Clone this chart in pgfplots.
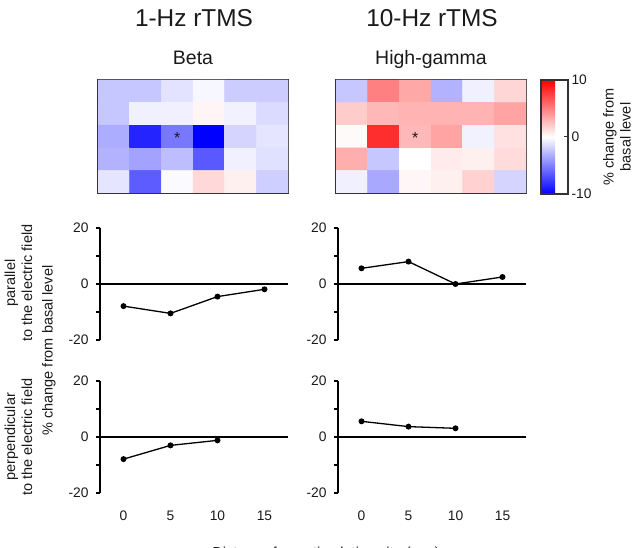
\documentclass[border=0pt]{standalone}
\usepackage{pgfplots}
\pgfplotsset{compat=1.18}
\usepackage{fontspec}
\setmainfont{Liberation Sans}

\definecolor{txt}{HTML}{1A1A1A}
\definecolor{frame}{HTML}{333333}

\newcommand{\ticksize}{\fontsize{13.8}{16}\selectfont}
\newcommand{\labsize}{\fontsize{14.5}{17}\selectfont}

% percent change from basal level, 5 rows (top to bottom) x 6 columns
\pgfplotstableread{
x y c
1 1 -2.2
2 1 -2.2
3 1 -1.1
4 1 -0.3
5 1 -2.0
6 1 -2.0
1 2 -2.2
2 2 -0.6
3 2 -0.6
4 2 0.4
5 2 -0.5
6 2 -1.4
1 3 -3.2
2 3 -8.6
3 3 -5.3
4 3 -10.0
5 3 -1.7
6 3 -1.0
1 4 -3.0
2 4 -3.6
3 4 -2.6
4 4 -6.5
5 4 -0.6
6 4 -1.2
1 5 -1.0
2 5 -6.4
3 5 -0.2
4 5 1.5
5 5 0.6
6 5 -1.9
}\betamap

\pgfplotstableread{
x y c
1 1 -2.2
2 1 5.0
3 1 3.4
4 1 -3.0
5 1 -0.6
6 1 1.6
1 2 2.0
2 2 2.8
3 2 3.0
4 2 3.0
5 2 3.0
6 2 3.6
1 3 0.2
2 3 8.2
3 3 2.8
4 3 3.6
5 3 -0.5
6 3 1.2
1 4 3.2
2 4 -2.2
3 4 0.0
4 4 0.8
5 4 0.6
6 4 1.4
1 5 -0.6
2 5 -3.4
3 5 0.3
4 5 0.6
5 5 1.8
6 5 -1.7
}\gammamap

\pgfplotsset{
  heat/.style={
    scale only axis, width=190pt, height=113pt, anchor=south west,
    xmin=0.5, xmax=6.5, ymin=0.5, ymax=5.5, y dir=reverse,
    xtick=\empty, ytick=\empty,
    axis line style={draw=frame, line width=1.6pt},
    colormap={bwr}{rgb255=(0,0,255) rgb255=(255,255,255) rgb255=(255,0,0)},
    point meta min=-10, point meta max=10,
  },
  frameaxis/.style={
    scale only axis, width=188pt, height=112pt, anchor=south west,
    xmin=-2.5, xmax=17.5, ymin=-20, ymax=20,
    tick label style={font=\ticksize, text=txt},
    /pgf/number format/assume math mode=true,
  },
  % y axis with outward ticks, data and zero line
  prof/.style={
    frameaxis,
    axis y line*=left, axis x line=none,
    axis line style={black, line width=1.5pt},
    ytick={-20,0,20}, minor ytick={-10,10},
    tick align=outside, major tick length=4pt, minor tick length=4pt,
    every tick/.style={black, line width=1.3pt},
    every minor tick/.style={black, line width=1.3pt},
    yticklabel shift=4pt,
    clip=false,
  },
  % distance labels under the lower panels
  xlabels/.style={
    frameaxis,
    hide y axis, axis x line*=bottom,
    axis line style={draw=none},
    xtick={0,5,10,15}, major tick length=0pt,
    xticklabel shift=14pt,
  },
  yaxisline/.style={black, line width=1.5pt, no marks},
  yaxisticks/.style={only marks, mark=-, mark size=2pt,
    mark options={xshift=-2pt, line width=1.3pt, black}},
  zero/.style={black, line width=1.5pt, no marks},
  curve/.style={black, line width=1.3pt, mark=*, mark size=2.3pt},
}

% vertical axis line with its outward ticks at -20, -10, 0, 10, 20
\newcommand{\profileaxis}{%
  \addplot[yaxisline] coordinates {(-2.5,-20) (-2.5,20)};
  \addplot[yaxisticks] coordinates {(-2.5,-20) (-2.5,-10) (-2.5,0) (-2.5,10) (-2.5,20)};
  \addplot[zero] coordinates {(-2.5,0) (17.5,0)};
}

\begin{document}
\begin{tikzpicture}
\path[use as bounding box] (0pt,0pt) rectangle (643pt,548pt);

% ---- heat maps ----
\begin{axis}[heat, at={(98pt,355pt)}]
  \addplot[matrix plot*, mesh/cols=6, point meta=explicit] table[meta=c] {\betamap};
  \node[font=\fontsize{16}{16}\selectfont, text=txt] at (axis cs:3,3.05) {*};
\end{axis}

\begin{axis}[heat, at={(336pt,355pt)},
  colorbar, colorbar shift/.style={xshift=15pt},
  colorbar style={
    scale only axis, width=27pt, height=114pt,
    anchor=north west, at={(parent axis.north east)},
    ytick={-10,0,10}, ytick pos=right, yticklabel pos=right,
    tick align=inside, major tick length=4pt,
    ytick style={draw=frame, line width=1pt},
    axis line style={draw=frame, line width=1.4pt},
    tick label style={font=\ticksize, text=txt},
    /pgf/number format/assume math mode=true,
  }]
  \addplot[matrix plot*, mesh/cols=6, point meta=explicit] table[meta=c] {\gammamap};
  \node[font=\fontsize{16}{16}\selectfont, text=txt] at (axis cs:3,3.05) {*};
\end{axis}

% ---- profiles parallel to the field ----
\begin{axis}[prof, at={(100pt,208pt)}]
  \profileaxis
  \addplot[curve] coordinates {(0,-7.9) (5,-10.5) (10,-4.5) (15,-1.9)};
\end{axis}

\begin{axis}[prof, at={(338pt,208pt)}]
  \profileaxis
  \addplot[curve] coordinates {(0,5.6) (5,8.0) (10,0) (15,2.5)};
\end{axis}

% ---- profiles perpendicular to the field ----
\begin{axis}[prof, at={(100pt,55pt)}]
  \profileaxis
  \addplot[curve] coordinates {(0,-7.9) (5,-3.0) (10,-1.2)};
\end{axis}
\begin{axis}[xlabels, at={(100pt,55pt)}]
\end{axis}

\begin{axis}[prof, at={(338pt,55pt)}]
  \profileaxis
  \addplot[curve] coordinates {(0,5.6) (5,3.7) (10,3.1)};
\end{axis}
\begin{axis}[xlabels, at={(338pt,55pt)}]
\end{axis}

% ---- titles and labels ----
\begin{scope}[x=1pt, y=1pt]
\node[anchor=base, text=txt, font=\fontsize{24.4}{28}\selectfont] at (194,521.3) {1-Hz rTMS};
\node[anchor=base, text=txt, font=\fontsize{24.4}{28}\selectfont] at (432,521.3) {10-Hz rTMS};
\node[anchor=base, text=txt, font=\fontsize{19.5}{22}\selectfont] at (193,483) {Beta};
\node[anchor=base, text=txt, font=\fontsize{19.5}{22}\selectfont] at (431,483) {High-gamma};

\node[rotate=90, align=center, text=txt, font=\labsize, inner sep=0pt] at (18.5,265) {parallel\\to the electric field};
\node[rotate=90, align=center, text=txt, font=\labsize, inner sep=0pt] at (18.5,111) {perpendicular\\to the electric field};
\node[rotate=90, text=txt, font=\labsize, inner sep=0pt] at (49,197.5) {\% change from basal level};
\node[rotate=90, align=center, text=txt, font=\labsize, inner sep=0pt] at (617,411) {\% change from\\basal level};
\node[anchor=base, text=txt, font=\labsize] at (326,-10) {Distance from stimulation site (mm)};
\end{scope}
\end{tikzpicture}
\end{document}
